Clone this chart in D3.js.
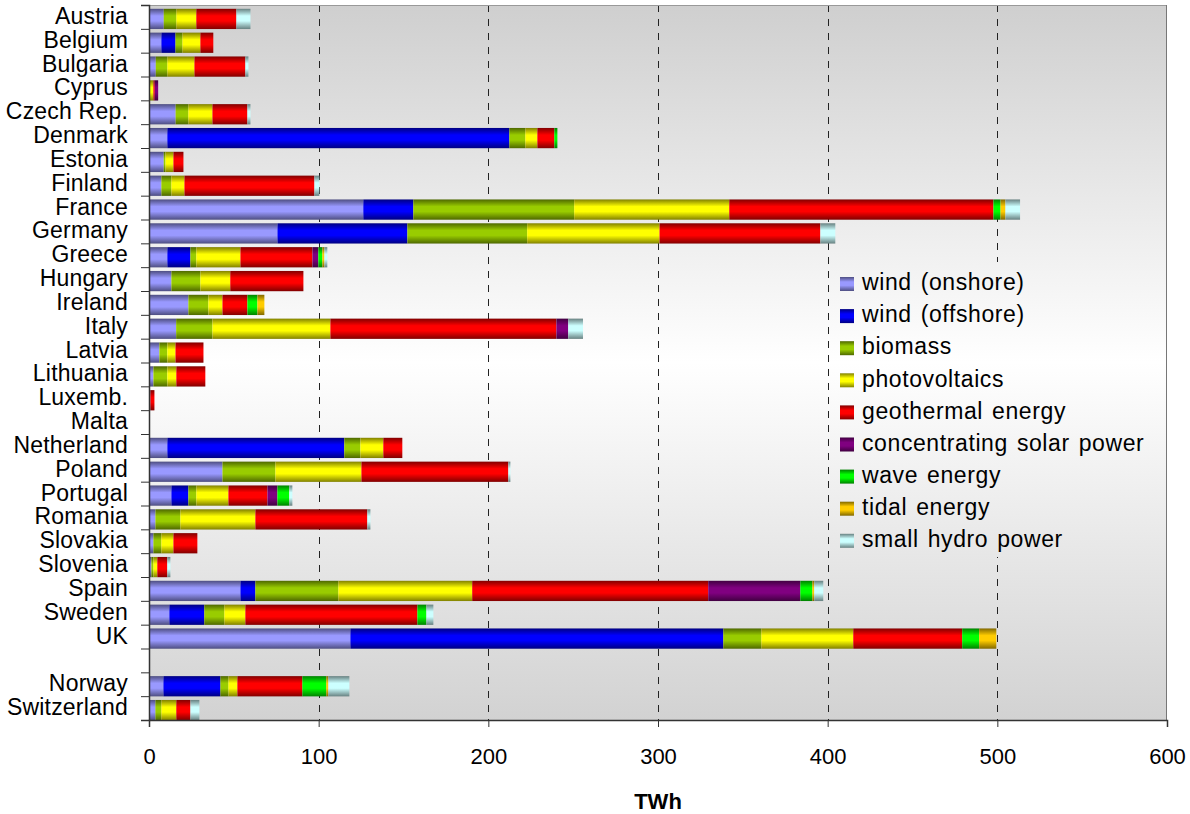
<!DOCTYPE html>
<html>
<head>
<meta charset="utf-8">
<script src="https://cdn.jsdelivr.net/npm/d3@7"></script>
<style>
  body { margin: 0; background: #fff; }
  svg { display: block; font-family: "Liberation Sans", Arial, sans-serif; }
</style>
</head>
<body>
<svg id="chart" width="1190" height="814"></svg>
<script>
const width = 1190;
const height = 814;
const plot = {left: 149, right: 1167, top: 5, bottom: 720};

// countries (the empty one is the gap before Norway)
const countries = ["Austria", "Belgium", "Bulgaria", "Cyprus", "Czech Rep.", "Denmark", "Estonia", "Finland",
  "France", "Germany", "Greece", "Hungary", "Ireland", "Italy", "Latvia", "Lithuania", "Luxemb.", "Malta",
  "Netherland", "Poland", "Portugal", "Romania", "Slovakia", "Slovenia", "Spain", "Sweden", "UK", "",
  "Norway", "Switzerland"];

// TWh per source, same order as countries
const windOnshore  = [8.7, 7.3, 4.0, 0.3, 15.7, 10.8, 8.7, 7.3, 126.3, 75.7, 10.8, 13.2, 23.2, 16.0, 6.1, 2.6, 0.8, 0, 10.8, 43.3, 13.2, 3.8, 2.6, 1.4, 53.9, 12.0, 118.7, 0, 8.5, 3.8];
const windOffshore = [0, 8.3, 0, 0, 0, 201.6, 0, 0, 29.5, 76.6, 13.6, 0, 0, 0, 0, 0, 0, 0, 104.3, 0, 10.0, 0, 0, 0, 8.8, 20.6, 219.8, 0, 33.6, 0];
const biomass      = [7.4, 4.1, 6.8, 0, 7.5, 9.4, 1.0, 5.9, 94.8, 70.6, 3.5, 17.1, 11.8, 21.4, 4.7, 8.2, 0, 0, 9.5, 31.2, 4.7, 14.7, 4.7, 1.2, 48.9, 11.8, 22.4, 0, 4.7, 3.5];
const photovoltaic = [11.8, 10.6, 16.0, 2.3, 14.2, 7.1, 4.7, 7.7, 91.4, 78.0, 26.0, 17.6, 8.3, 69.5, 4.8, 5.3, 0, 0, 13.5, 50.7, 18.9, 44.2, 7.1, 2.3, 78.9, 12.4, 54.2, 0, 5.3, 8.8];
const geothermal   = [23.6, 7.6, 30.0, 0.8, 20.6, 10.0, 5.9, 76.6, 155.7, 94.8, 42.4, 43.1, 14.7, 133.2, 16.5, 17.1, 2.4, 0, 11.2, 86.6, 23.0, 66.0, 14.1, 5.9, 139.1, 101.4, 64.2, 0, 38.3, 8.3];
const csp          = [0, 0, 0, 2.0, 0, 0, 0, 0, 0, 0, 3.5, 0, 0, 7.0, 0, 0, 0, 0, 0, 0, 5.9, 0, 0, 0, 54.3, 0, 0, 0, 0, 0];
const wave         = [0, 0, 0, 0, 0, 1.8, 0, 0, 4.2, 0, 2.4, 0, 5.9, 0, 0, 0, 0, 0, 0, 0, 7.0, 0, 0, 0, 7.1, 5.3, 10.0, 0, 14.1, 0];
const tidal        = [0, 0, 0, 0, 0, 0, 0, 0, 2.9, 0, 1.2, 0, 4.1, 0, 0, 0, 0, 0, 0, 0, 0, 0, 0, 0, 1.1, 0, 10.1, 0, 1.2, 0];
const smallHydro   = [8.3, 0, 1.8, 0, 1.8, 0, 0, 2.9, 8.6, 8.8, 1.7, 0, 0, 8.7, 0, 0, 0, 0, 0, 1.2, 1.8, 1.8, 0, 1.8, 5.3, 4.1, 0, 0, 12.4, 5.3];

const seriesNames = ["wind (onshore)", "wind (offshore)", "biomass", "photovoltaics", "geothermal energy",
  "concentrating solar power", "wave energy", "tidal energy", "small hydro power"];
const seriesValues = [windOnshore, windOffshore, biomass, photovoltaic, geothermal, csp, wave, tidal, smallHydro];
const colours = ["#9999ff", "#0000ff", "#99cc00", "#ffff00", "#ff0000", "#800080", "#00ff00", "#ffcc00", "#ccffff"];

const xTicks = [0, 100, 200, 300, 400, 500, 600];

const table = countries.map((c, i) => {
  const row = {idx: i, country: c};
  seriesNames.forEach((s, k) => row[s] = seriesValues[k][i]);
  return row;
});

const svg = d3.select("#chart");
const defs = svg.append("defs");

// background gradient: grey at top and bottom, white in the middle
const bg = defs.append("linearGradient")
  .attr("id", "bg")
  .attr("gradientUnits", "userSpaceOnUse")
  .attr("x1", 0).attr("y1", plot.top).attr("x2", 0).attr("y2", plot.bottom);
bg.append("stop").attr("offset", 0).attr("stop-color", "#cfcfcf");
bg.append("stop").attr("offset", 0.5).attr("stop-color", "#ffffff");
bg.append("stop").attr("offset", 1).attr("stop-color", "#d2d2d2");

// cylinder shading for each colour
colours.forEach((c, k) => {
  const g = defs.append("linearGradient")
    .attr("id", "s" + k)
    .attr("x1", 0).attr("y1", 0).attr("x2", 0).attr("y2", 1);
  const dark = d3.color(c).darker(1.9).formatHex();
  g.append("stop").attr("offset", 0).attr("stop-color", dark);
  g.append("stop").attr("offset", 0.35).attr("stop-color", c);
  g.append("stop").attr("offset", 0.6).attr("stop-color", c);
  g.append("stop").attr("offset", 1).attr("stop-color", dark);
});

const x = d3.scaleLinear().domain([0, 600]).range([plot.left, plot.right]);
const y = d3.scaleBand()
  .domain(d3.range(countries.length))
  .range([7, 722])
  .paddingInner(0.15)
  .paddingOuter(0.075);
const slots = d3.scaleLinear().domain([0, countries.length]).range([plot.top, plot.bottom]);

svg.append("rect")
  .attr("x", plot.left).attr("y", plot.top)
  .attr("width", plot.right - plot.left).attr("height", plot.bottom - plot.top)
  .attr("fill", "url(#bg)");

// dashed gridlines
svg.append("g")
  .selectAll("line")
  .data(xTicks.slice(1, -1))
  .enter()
  .append("line")
  .attr("x1", d => Math.round(x(d)) + 0.5).attr("x2", d => Math.round(x(d)) + 0.5)
  .attr("y1", plot.top).attr("y2", plot.bottom)
  .attr("stroke", "#222")
  .attr("stroke-dasharray", "7,7");

// legend box hides the grid behind it
svg.append("rect")
  .attr("x", 832).attr("y", 262).attr("width", 330).attr("height", 295)
  .attr("fill", "url(#bg)");

// borders
svg.append("line")
  .attr("x1", plot.left).attr("x2", plot.right).attr("y1", plot.top + 0.5).attr("y2", plot.top + 0.5)
  .attr("stroke", "#999");
svg.append("line")
  .attr("x1", plot.right - 0.5).attr("x2", plot.right - 0.5).attr("y1", plot.top).attr("y2", plot.bottom)
  .attr("stroke", "#777");

const stacked = d3.stack().keys(seriesNames)(table);

svg.append("g")
  .selectAll("g")
  .data(stacked)
  .enter()
  .append("g")
  .attr("fill", (d, k) => `url(#s${k})`)
  .selectAll("rect")
  .data(d => d.filter(p => p[1] - p[0] > 0))
  .enter()
  .append("rect")
  .attr("x", d => x(d[0]))
  .attr("width", d => x(d[1]) - x(d[0]))
  .attr("y", d => y(d.data.idx))
  .attr("height", y.bandwidth());

// y axis: boundary ticks and labels
const yTicks = svg.append("g")
  .attr("transform", `translate(${plot.left},0)`)
  .call(d3.axisLeft(slots).tickValues(d3.range(countries.length + 1)).tickFormat("").tickSize(8));
yTicks.select(".domain").attr("stroke", "#333").attr("stroke-width", 1.5);
yTicks.selectAll(".tick line").attr("stroke", "#333");

const yLabels = svg.append("g")
  .attr("transform", `translate(${plot.left},0)`)
  .call(d3.axisLeft(y).tickFormat(i => countries[i]).tickSize(0).tickPadding(21));
yLabels.select(".domain").remove();
yLabels.selectAll("text")
  .attr("dy", "0.22em")
  .attr("font-size", 23)
  .attr("letter-spacing", 0.2)
  .attr("fill", "#000")
  .attr("font-family", "Liberation Sans, Arial, sans-serif");

// x axis
const xAxis = svg.append("g")
  .attr("transform", `translate(0,${plot.bottom})`)
  .call(d3.axisBottom(x).tickValues(xTicks).tickSize(7).tickPadding(21));
xAxis.select(".domain").attr("stroke", "#333").attr("stroke-width", 1.5);
xAxis.selectAll(".tick line").attr("stroke", "#333");
xAxis.selectAll("text")
  .attr("font-size", 22)
  .attr("fill", "#000")
  .attr("font-family", "Liberation Sans, Arial, sans-serif");

svg.append("text")
  .attr("x", (plot.left + plot.right) / 2)
  .attr("y", 809)
  .attr("text-anchor", "middle")
  .attr("font-size", 22)
  .attr("font-weight", "bold")
  .text("TWh");

// legend
const legend = svg.append("g");
const rows = legend.selectAll("g")
  .data(seriesNames)
  .enter()
  .append("g")
  .attr("transform", (d, k) => `translate(840,${284 + k * 32.1})`);
rows.append("rect")
  .attr("x", 0).attr("y", -7)
  .attr("width", 14).attr("height", 14)
  .attr("fill", (d, k) => `url(#s${k})`);
rows.append("text")
  .attr("x", 22)
  .attr("dy", "0.27em")
  .attr("font-size", 23)
  .attr("letter-spacing", 0.6)
  .attr("word-spacing", 2)
  .text(d => d);
</script>
</body>
</html>
